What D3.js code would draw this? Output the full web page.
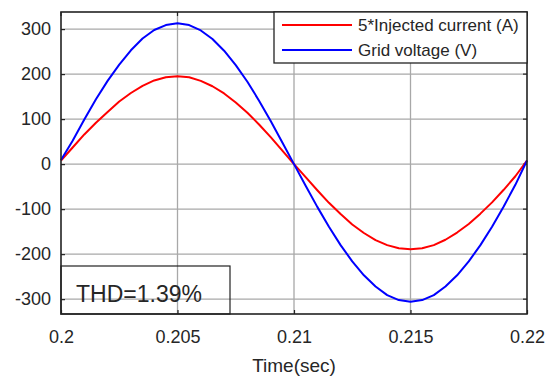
<!DOCTYPE html>
<html>
<head>
<meta charset="utf-8">
<script src="https://cdn.jsdelivr.net/npm/d3@7"></script>
<style>
  html, body { margin: 0; padding: 0; background: #fff; }
  text { font-family: "Liberation Sans", Arial, sans-serif; fill: #262626; }
</style>
</head>
<body>
<svg id="chart" width="546" height="378"></svg>
<script>
// Time samples (s)
const time = [0.2,0.2005,0.201,0.2015,0.202,0.2025,0.203,0.2035,0.204,0.2045,0.205,
  0.2055,0.206,0.2065,0.207,0.2075,0.208,0.2085,0.209,0.2095,0.21,
  0.2105,0.211,0.2115,0.212,0.2125,0.213,0.2135,0.214,0.2145,0.215,
  0.2155,0.216,0.2165,0.217,0.2175,0.218,0.2185,0.219,0.2195,0.22];
// 5*Injected current (A)
const current = [8,37,66,92,116,139,158,174,186,193,195,
  193,185,173,157,137,114,88,60,30,0,
  -29,-58,-86,-111,-134,-153,-169,-180,-187,-189,
  -187,-180,-168,-152,-133,-110,-85,-57,-27,8];
// Grid voltage (V)
const voltage = [9,52,99,144,185,221,253,279,298,309,313,
  309,297,278,252,220,183,141,96,48,0,
  -48,-95,-139,-180,-216,-247,-272,-291,-302,-306,
  -302,-291,-272,-247,-216,-180,-139,-94,-46,8];
const xTicks = [0.2,0.205,0.21,0.215,0.22];
const xTickLabels = ["0.2","0.205","0.21","0.215","0.22"];
const yTicks = [-300,-200,-100,0,100,200,300];
const yTickLabels = ["-300","-200","-100","0","100","200","300"];
const seriesNames = ["5*Injected current (A)","Grid voltage (V)"];
const seriesColors = ["#ff0000","#0000ff"];
const xLabel = "Time(sec)";
const thdLabel = "THD=1.39%";

const svg = d3.select("#chart");
const L = 61, T = 12, R = 527, B = 314;
const x = d3.scaleLinear().domain([0.2,0.22]).range([L,R]);
const y = d3.scaleLinear().domain([-333,338]).range([B,T]);

// grid
const g = svg.append("g");
g.selectAll(".gx").data(xTicks.slice(1,-1)).enter().append("line")
  .attr("x1",d=>x(d)).attr("x2",d=>x(d)).attr("y1",T).attr("y2",B)
  .attr("stroke","#a8a8a8").attr("stroke-width",1.3);
g.selectAll(".gy").data(yTicks).enter().append("line")
  .attr("y1",d=>y(d)).attr("y2",d=>y(d)).attr("x1",L).attr("x2",R)
  .attr("stroke","#a8a8a8").attr("stroke-width",1.3);

// axes
const xAxis = d3.axisBottom(x).tickValues(xTicks).tickFormat((d,i)=>xTickLabels[i]).tickSizeInner(-4).tickSizeOuter(0).tickPadding(16);
const yAxis = d3.axisLeft(y).tickValues(yTicks).tickFormat((d,i)=>yTickLabels[i]).tickSizeInner(-4).tickSizeOuter(0).tickPadding(10);
const gx = svg.append("g").attr("transform",`translate(0,${B})`).call(xAxis);
const gy = svg.append("g").attr("transform",`translate(${L},0)`).call(yAxis);
[gx,gy].forEach(a=>{
  a.select(".domain").remove();
  a.selectAll("line").attr("stroke","#222").attr("stroke-width",1.2);
  a.selectAll("text").style("font-size","18px").attr("fill","#262626");
});
// top/right ticks
svg.append("g").selectAll("line").data(xTicks).enter().append("line")
  .attr("x1",d=>x(d)).attr("x2",d=>x(d)).attr("y1",T).attr("y2",T+4).attr("stroke","#222").attr("stroke-width",1.2);
svg.append("g").selectAll("line").data(yTicks).enter().append("line")
  .attr("y1",d=>y(d)).attr("y2",d=>y(d)).attr("x1",R).attr("x2",R-4).attr("stroke","#222").attr("stroke-width",1.2);

// lines
const line = d3.line().x((d,i)=>x(time[i])).y(d=>y(d));
[current, voltage].forEach((s,k)=>{
  svg.append("path").datum(s).attr("d",line).attr("fill","none")
    .attr("stroke",seriesColors[k]).attr("stroke-width",2).attr("stroke-linejoin","round");
});

// frame
svg.append("rect").attr("x",L).attr("y",T).attr("width",R-L).attr("height",B-T)
  .attr("fill","none").attr("stroke","#222").attr("stroke-width",1.6);

// legend
const lg = svg.append("g");
lg.append("rect").attr("x",274).attr("y",T).attr("width",R-274).attr("height",51)
  .attr("fill","#fff").attr("stroke","#222").attr("stroke-width",1.3);
seriesNames.forEach((n,i)=>{
  const yy = 25 + i*25;
  lg.append("line").attr("x1",282).attr("x2",352).attr("y1",yy).attr("y2",yy)
    .attr("stroke",seriesColors[i]).attr("stroke-width",2);
  lg.append("text").attr("x",358).attr("y",yy+6).text(n).style("font-size","17px");
});

// THD box
svg.append("rect").attr("x",L).attr("y",266).attr("width",230-L).attr("height",B-266)
  .attr("fill","none").attr("stroke","#222").attr("stroke-width",1.2);
svg.append("text").attr("x",76).attr("y",302).text(thdLabel).style("font-size","23px");

// x label
svg.append("text").attr("x",(L+R)/2).attr("y",372).attr("text-anchor","middle")
  .text(xLabel).style("font-size","19px");
</script>
</body>
</html>
